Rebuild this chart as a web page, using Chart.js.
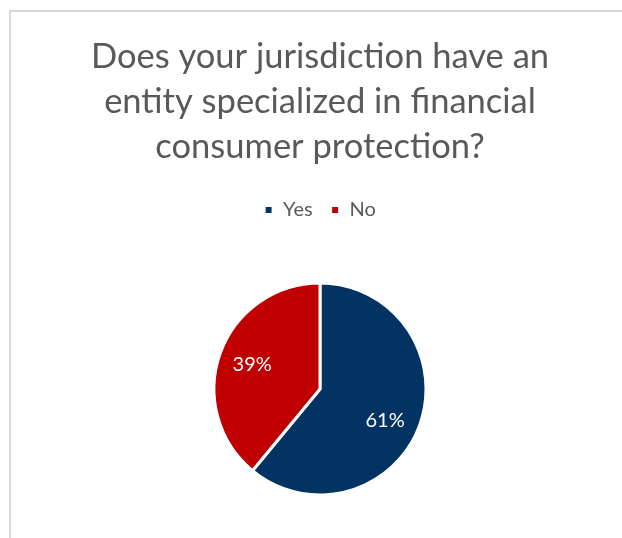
<!DOCTYPE html>
<html>
<head>
<meta charset="utf-8">
<script src="https://cdn.jsdelivr.net/npm/chart.js@4.4.1/dist/chart.umd.min.js"></script>
<style>
  html, body { margin: 0; padding: 0; background: #fff; overflow: hidden; }
  #frame {
    position: absolute; left: 9px; top: 10px; width: 640px; height: 560px;
    border-top: 2px solid #d9d9d9; border-left: 2px solid #d9d9d9;
  }
  #wrap { position: absolute; left: 0; top: 0; width: 622px; height: 556px; }
</style>
</head>
<body>
<div id="frame"></div>
<div id="wrap"><canvas id="myChart"></canvas></div>
<script>
// Chart data
const categories = ['Yes', 'No'];
const shares = [61, 39];
const sliceColors = ['#033363', '#c00000'];
const titleLines = ['Does your jurisdiction have an', 'entity specialized in financial', 'consumer protection?'];

// percentage labels drawn on the slices
const sliceLabels = {
    id: 'sliceLabels',
    afterDatasetsDraw(chart) {
        const ctx = chart.ctx;
        const meta = chart.getDatasetMeta(0);
        ctx.save();
        ctx.fillStyle = '#ffffff';
        ctx.font = '20px Lato, sans-serif';
        ctx.textAlign = 'center';
        ctx.textBaseline = 'middle';
        meta.data.forEach(function (arc, i) {
            const p = arc.getProps(['x', 'y', 'startAngle', 'endAngle', 'outerRadius'], true);
            const mid = (p.startAngle + p.endAngle) / 2 + (i === 0 ? 0.1 : 0);
            const r = p.outerRadius * 0.68;
            ctx.fillText(shares[i] + '%', p.x + Math.cos(mid) * r, p.y + Math.sin(mid) * r);
        });
        ctx.restore();
    }
};

const myChart = new Chart(document.getElementById('myChart'), {
    type: 'pie',
    data: {
        labels: categories,
        datasets: [{
            data: shares,
            backgroundColor: sliceColors,
            borderColor: '#ffffff',
            borderWidth: 3,
            radius: 106
        }]
    },
    options: {
        responsive: true,
        maintainAspectRatio: false,
        animation: false,
        layout: { padding: { left: 18, right: 0, top: 0, bottom: 8 } },
        plugins: {
            title: {
                display: true,
                text: titleLines,
                color: '#595959',
                font: { family: 'Lato, sans-serif', size: 34.5, weight: 'normal', lineHeight: '45px' },
                padding: { top: 34, bottom: 13 }
            },
            legend: {
                display: true,
                position: 'top',
                labels: {
                    color: '#595959',
                    font: { family: 'Lato, sans-serif', size: 20 },
                    boxWidth: 9,
                    boxHeight: 9,
                    padding: 18
                }
            },
            tooltip: { enabled: false }
        }
    },
    plugins: [sliceLabels]
});
</script>
</body>
</html>
